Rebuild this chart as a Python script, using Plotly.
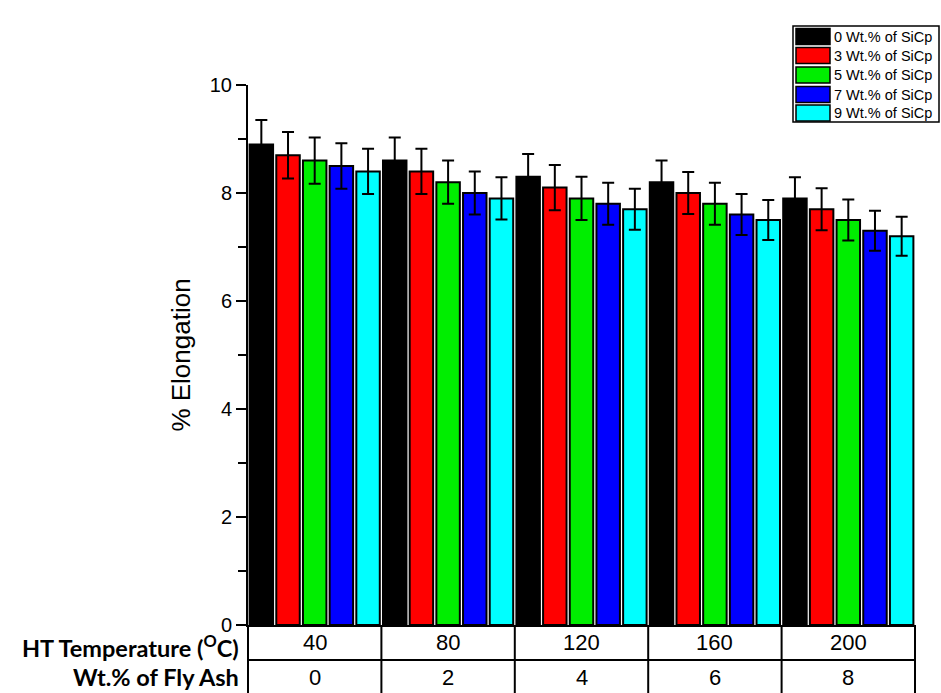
import plotly.graph_objects as go

# Heat-treatment temperature groups and matching fly-ash content
ht_temperature = ["40", "80", "120", "160", "200"]
fly_ash_wt = ["0", "2", "4", "6", "8"]

# Series: SiCp content
series_names = [
    "0 Wt.% of SiCp",
    "3 Wt.% of SiCp",
    "5 Wt.% of SiCp",
    "7 Wt.% of SiCp",
    "9 Wt.% of SiCp",
]
series_colors = ["#000000", "#ff0000", "#00ee00", "#0000ff", "#00ffff"]

elong_0 = [8.9, 8.6, 8.3, 8.2, 7.9]
elong_3 = [8.7, 8.4, 8.1, 8.0, 7.7]
elong_5 = [8.6, 8.2, 7.9, 7.8, 7.5]
elong_7 = [8.5, 8.0, 7.8, 7.6, 7.3]
elong_9 = [8.4, 7.9, 7.7, 7.5, 7.2]

err_0 = [0.45, 0.43, 0.42, 0.40, 0.39]
err_3 = [0.43, 0.42, 0.42, 0.39, 0.39]
err_5 = [0.43, 0.40, 0.40, 0.39, 0.38]
err_7 = [0.42, 0.40, 0.39, 0.38, 0.37]
err_9 = [0.42, 0.39, 0.38, 0.37, 0.36]

values = [elong_0, elong_3, elong_5, elong_7, elong_9]
errors = [err_0, err_3, err_5, err_7, err_9]

fig = go.Figure()
for name, color, vals, errs in zip(series_names, series_colors, values, errors):
    fig.add_trace(go.Bar(
        x=ht_temperature,
        y=vals,
        name=name,
        marker=dict(color=color, line=dict(color="black", width=2)),
        error_y=dict(type="data", array=errs, visible=True,
                     color="black", thickness=2, width=6),
        showlegend=False,
    ))

# Plot-area geometry in pixels (used to place the custom legend and table)
W, H = 941, 693
ML, MR, MT, MB = 248, 26, 85, 68
PW = W - ML - MR
PH = H - MT - MB


def px_x(px):
    return (px - ML) / PW


def px_y(py):
    return (H - MB - py) / PH


shapes = []
annotations = []

# Custom legend box with wide colour patches
shapes.append(dict(type="rect", xref="paper", yref="paper",
                   x0=px_x(793), x1=px_x(939), y0=px_y(122), y1=px_y(26),
                   line=dict(color="black", width=1.5), fillcolor="white"))
row_centers = [36.5, 55.5, 75, 94.5, 113]
for name, color, cy in zip(series_names, series_colors, row_centers):
    shapes.append(dict(type="rect", xref="paper", yref="paper",
                       x0=px_x(796), x1=px_x(830),
                       y0=px_y(cy + 8), y1=px_y(cy - 8),
                       line=dict(color="black", width=1.5), fillcolor=color))
    annotations.append(dict(xref="paper", yref="paper", x=px_x(832), y=px_y(cy),
                            xanchor="left", yanchor="middle", showarrow=False,
                            text=name,
                            font=dict(family="Liberation Sans, Arial", size=14.5,
                                      color="black")))

# Table below the x axis
n_groups = len(ht_temperature)
row_div = px_y(660)
shapes.append(dict(type="line", xref="paper", yref="paper",
                   x0=0, x1=1, y0=row_div, y1=row_div,
                   line=dict(color="black", width=2)))
for i in range(n_groups + 1):
    xb = i / n_groups
    shapes.append(dict(type="line", xref="paper", yref="paper",
                       x0=xb, x1=xb, y0=0, y1=px_y(700),
                       line=dict(color="black", width=2)))

row1_y = px_y(642)
row2_y = px_y(677)
cell_font = dict(family="Liberation Sans, Arial", size=22, color="black")
for i, (temp, ash) in enumerate(zip(ht_temperature, fly_ash_wt)):
    annotations.append(dict(xref="x", yref="paper", x=i, y=row1_y,
                            showarrow=False, text=temp, font=cell_font,
                            yanchor="middle"))
    annotations.append(dict(xref="x", yref="paper", x=i, y=row2_y,
                            showarrow=False, text=ash, font=cell_font,
                            yanchor="middle"))

label_font = dict(family="Lato, Open Sans, sans-serif", size=23.5, color="black")
annotations.append(dict(xref="paper", yref="paper", x=px_x(241), y=px_y(646),
                        xanchor="right", yanchor="middle", showarrow=False,
                        text="<b>HT Temperature (<sup>O</sup>C)</b>",
                        font=label_font))
annotations.append(dict(xref="paper", yref="paper", x=px_x(241), y=row2_y,
                        xanchor="right", yanchor="middle", showarrow=False,
                        text="<b>Wt.% of Fly Ash</b>", font=label_font))

fig.update_layout(
    width=W, height=H,
    margin=dict(l=ML, r=MR, t=MT, b=MB, pad=0),
    paper_bgcolor="white",
    plot_bgcolor="white",
    barmode="group",
    bargap=0,
    bargroupgap=0.12,
    shapes=shapes,
    annotations=annotations,
    font=dict(family="Liberation Sans, Arial", color="black"),
)
fig.update_xaxes(
    type="category",
    range=[-0.5, n_groups - 0.5],
    showticklabels=False,
    ticks="",
    showline=True, linecolor="black", linewidth=2,
    showgrid=False, zeroline=False,
)
fig.update_yaxes(
    range=[0, 10],
    dtick=2,
    ticks="outside", ticklen=10, tickwidth=2, tickcolor="black",
    minor=dict(dtick=1, ticks="outside", ticklen=8, tickwidth=2,
               tickcolor="black", showgrid=False),
    showline=True, linecolor="black", linewidth=2,
    showgrid=False, zeroline=False,
    tickfont=dict(family="Liberation Sans, Arial", size=20, color="black"),
    title=dict(text="% Elongation", standoff=12,
               font=dict(family="Liberation Sans, Arial", size=26,
                         color="black")),
)

fig.write_html("out.html")
